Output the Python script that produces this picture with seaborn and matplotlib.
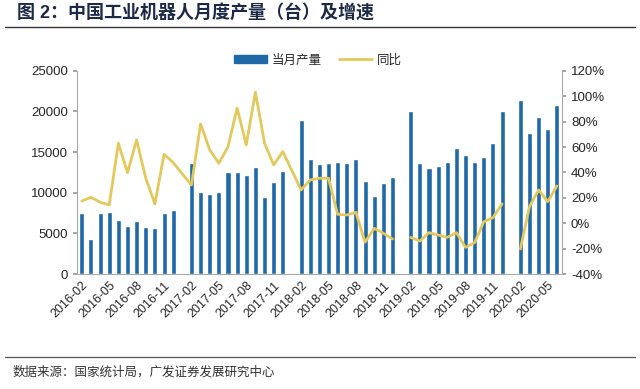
import numpy as np
import pandas as pd
import seaborn as sns
import matplotlib.pyplot as plt
from matplotlib.patches import Patch
from matplotlib.lines import Line2D

# 月份 2016-02 ~ 2020-06 (每年1月无数据)
months = pd.period_range('2016-02', '2020-06', freq='M').strftime('%Y-%m').tolist()

# 当月产量（台）
output = [7550, 4270, 7550, 7630, 6690, 5910, 6530, 5750, 5710, 7510, 7840,
          np.nan, 13710, 10140, 9810, 10060, 12600, 12520, 12190, 13140, 9480, 11290, 12720,
          np.nan, 18930, 14120, 13550, 13670, 13830, 13710, 14160, 11450, 9650, 11170, 11990,
          np.nan, 20070, 13710, 13010, 13340, 13750, 15470, 14650, 13750, 14410, 16090, 20030,
          np.nan, 21350, 17330, 19300, 17860, 20810]

# 同比（%）
yoy = [17.5, 20.4, 16.5, 14.4, 63.0, 39.8, 65.6, 35.4, 15.2, 54.3, 47.7,
       np.nan, 30.1, 78.2, 57.7, 47.2, 60.3, 90.6, 61.7, 103.2, 63.0, 45.9, 56.4,
       np.nan, 26.2, 34.1, 35.4, 35.4, 7.0, 6.5, 8.6, -15.0, -4.0, -7.9, -12.4,
       np.nan, -11.2, -14.0, -7.4, -9.3, -11.1, -7.4, -19.0, -15.3, 1.2, 4.4, 15.2,
       np.nan, -20.3, 13.1, 26.2, 17.0, 29.4]

# 折线断开的分段
seg = [0] * 35 + [1] * 12 + [2] * 6

df = pd.DataFrame({'month': months, 'output': output, 'yoy': yoy, 'seg': seg})
df['pos'] = np.arange(len(df))

sns.set_theme(style='white')
plt.rcParams['font.family'] = ['Liberation Sans', 'Noto Sans CJK SC', 'DejaVu Sans']
plt.rcParams['axes.unicode_minus'] = False

bar_color = '#1f69a8'
line_color = '#e3c95c'

fig = plt.figure(figsize=(6.4, 3.89), dpi=100)
ax = fig.add_axes([0.120, 0.2956, 0.758, 0.5224])

sns.barplot(data=df, x='month', y='output', color=bar_color, width=0.55,
            saturation=1, ax=ax, order=months)
ax.set_xlim(-0.55, len(months) - 0.45)
ax.set_ylim(0, 25000)
ax.set_yticks(range(0, 25001, 5000))
ax.set_xlabel('')
ax.set_ylabel('')

ticks = list(range(0, len(months), 3))
ax.set_xticks(ticks)
ax.set_xticklabels([months[i] for i in ticks], rotation=45, ha='right',
                   rotation_mode='anchor', fontsize=9)
ax.tick_params(axis='y', labelsize=9.5, length=3, color='#999999', direction='out', left=True)
ax.tick_params(axis='x', length=0, pad=4)

ax2 = ax.twinx()
for s, g in df.dropna(subset=['yoy']).groupby('seg'):
    sns.lineplot(data=g, x='pos', y='yoy', color=line_color, linewidth=2,
                 ax=ax2, estimator=None, sort=False)
ax2.set_ylim(-40, 120)
ax2.set_yticks(range(-40, 121, 20))
ax2.set_yticklabels([f'{v}%' for v in range(-40, 121, 20)])
ax2.set_ylabel('')
ax2.tick_params(axis='y', labelsize=9.5, length=3, color='#999999', direction='out', right=True)
ax2.set_xlim(ax.get_xlim())

for a in (ax, ax2):
    a.spines['top'].set_visible(False)
    for sp in ('left', 'right', 'bottom'):
        a.spines[sp].set_color('#aaaaaa')
        a.spines[sp].set_linewidth(0.8)
ax.spines['right'].set_visible(False)
ax2.spines['left'].set_visible(False)
ax2.spines['bottom'].set_visible(False)

handles = [Patch(facecolor=bar_color, edgecolor=bar_color),
           Line2D([0], [0], color=line_color, linewidth=2)]
fig.legend(handles, ['当月产量', '同比'], loc='center', bbox_to_anchor=(0.497, 0.845),
           ncol=2, frameon=False, fontsize=9, handlelength=2.6, handleheight=0.55,
           columnspacing=1.4, handletextpad=0.4)

fig.text(0.027, 0.965, '图 2：中国工业机器人月度产量（台）及增速', fontsize=13,
         fontweight='bold', color='#1c2a48', va='center', ha='left')
fig.add_artist(Line2D([0.008, 0.992], [0.931, 0.931], color='#333333', linewidth=1.0))
fig.add_artist(Line2D([0.008, 0.992], [0.082, 0.082], color='#555555', linewidth=0.9))
fig.text(0.02, 0.044, '数据来源：国家统计局，广发证券发展研究中心', fontsize=9,
         color='#333333', va='center', ha='left')

fig.savefig('out.png', dpi=100, facecolor='white')
